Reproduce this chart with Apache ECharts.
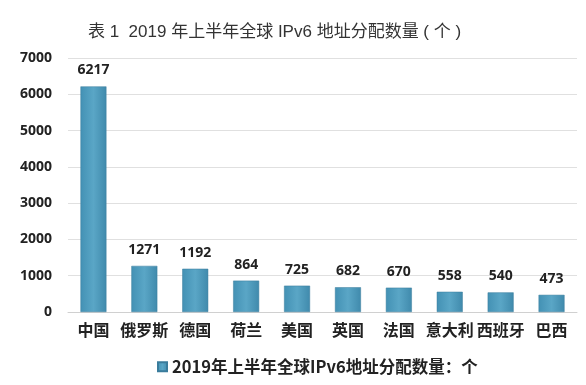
<!DOCTYPE html>
<html><head><meta charset="utf-8">
<script src="https://cdn.jsdelivr.net/npm/echarts@6/dist/echarts.min.js"></script>
<style>html,body{margin:0;padding:0;background:#fff}#c{width:586px;height:385px}</style>
</head><body><div id="c"></div>
<script>
const titleText = '表 1  2019 年上半年全球 IPv6 地址分配数量 ( 个 )';
const seriesName = '2019年上半年全球IPv6地址分配数量：个';
const categories = ['中国','俄罗斯','德国','荷兰','美国','英国','法国','意大利','西班牙','巴西'];
const values = [6217,1271,1192,864,725,682,670,558,540,473];
const yTicks = [0,1000,2000,3000,4000,5000,6000,7000];

const chart = echarts.init(document.getElementById('c'), null, {renderer:'canvas'});
chart.setOption({
  animation:false,
  title:{text:titleText,left:83,top:19,textStyle:{fontSize:17,fontWeight:'normal',color:'#333',fontFamily:'"Liberation Sans", "Noto Sans CJK SC", sans-serif'}},
  legend:{bottom:5,left:152,itemWidth:9,itemHeight:9,icon:'rect',itemGap:4,
    textStyle:{fontSize:16.5,fontWeight:'bold',color:'#222',fontFamily:'"Noto Sans CJK SC", sans-serif'},data:[seriesName]},
  grid:{left:68,right:9,top:58,bottom:73,containLabel:false},
  xAxis:{type:'category',data:categories,
    axisLine:{lineStyle:{color:'#d0d0d0'}},axisTick:{show:false},
    axisLabel:{interval:0,fontSize:16,fontWeight:'bold',color:'#222',margin:10,fontFamily:'"Noto Sans CJK SC", sans-serif'}},
  yAxis:{type:'value',min:yTicks[0],max:yTicks[yTicks.length-1],interval:1000,
    axisLine:{show:false},axisTick:{show:false},
    splitLine:{lineStyle:{color:'#e0e0e0'}},
    axisLabel:{fontSize:14,fontWeight:'bold',color:'#222',margin:16,formatter:v=>String(v),fontFamily:'"Open Sans", "DejaVu Sans", sans-serif'}},
  series:[{name:seriesName,type:'bar',data:values,barWidth:'51%',
    itemStyle:{color:new echarts.graphic.LinearGradient(0,0,1,0,[{offset:0,color:'#4391b4'},{offset:0.5,color:'#5aa6c6'},{offset:1,color:'#408aac'}]),
      borderColor:'#3a7c9c',borderWidth:0.5},
    label:{show:true,position:'top',distance:9,fontSize:14,fontWeight:'bold',color:'#222',fontFamily:'"Open Sans", "DejaVu Sans", sans-serif'}}]
});
</script></body></html>
